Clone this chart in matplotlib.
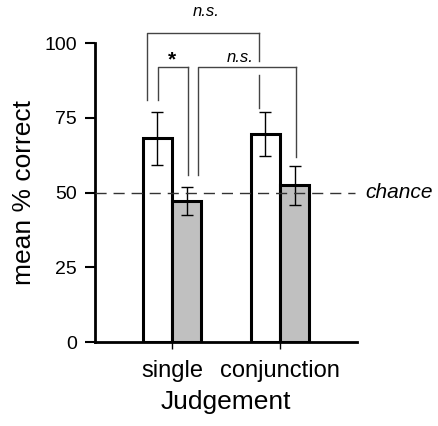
import matplotlib
matplotlib.use("Agg")
import matplotlib.pyplot as plt
import numpy as np

plt.rcParams["font.family"] = ["Liberation Sans", "DejaVu Sans"]

judgements = ["single", "conjunction"]
white_means = [68.1, 69.5]
white_err = [8.8, 7.3]
gray_means = [47.2, 52.4]
gray_err = [4.8, 6.6]
chance = 50

# significance brackets: (x legs, y top, left leg bottom, right leg bottom)
brackets = [
    ((-0.231, 0.806), 103.3, 80.9, 78.3),
    ((-0.130, 0.145), 92.0, 80.9, 55.9),
    ((0.244, 1.148), 92.0, 55.9, 62.0),
]
sig_labels = [("n.s.", 0.315, 110.5), ("*", 0.0, 94.5), ("n.s.", 0.63, 95.0)]

fig = plt.figure(figsize=(4.38, 4.26), dpi=100)
ax = fig.add_axes([0.217, 0.197, 0.598, 0.702])

x = np.arange(len(judgements))
w = 0.273
ax.bar(x - w / 2, white_means, w, color="white", edgecolor="black", linewidth=2.2, zorder=2)
ax.bar(x + w / 2, gray_means, w, color="#c0c0c0", edgecolor="black", linewidth=2.2, zorder=2)
ax.errorbar(x - w / 2, white_means, yerr=white_err, fmt="none", ecolor="black",
            elinewidth=1, capsize=4.5, capthick=1, zorder=3)
ax.errorbar(x + w / 2, gray_means, yerr=gray_err, fmt="none", ecolor="black",
            elinewidth=1, capsize=4.5, capthick=1, zorder=3)

ax.axhline(chance, xmin=0, xmax=0.992, color="#333333", linestyle=(0, (8, 5)),
           linewidth=1, zorder=4)
ax.text(1.03, chance, "chance", transform=ax.get_yaxis_transform(), fontsize=15,
        style="italic", va="center", ha="left")

bc = "#444444"
for i, ((xl, xr), top, bl, br) in enumerate(brackets):
    ax.plot([xl, xl, xr], [bl, top, top], color=bc, lw=1, clip_on=False)
    if i == 0:
        # right leg interrupted where it crosses the lower bracket
        ax.plot([xr, xr], [top, 94.0], color=bc, lw=1, clip_on=False)
        ax.plot([xr, xr], [89.3, br], color=bc, lw=1, clip_on=False)
    else:
        ax.plot([xr, xr], [top, br], color=bc, lw=1, clip_on=False)

for txt, tx, ty in sig_labels:
    if txt == "*":
        ax.text(tx, ty, txt, fontsize=15, fontweight="bold", ha="center", va="center")
    else:
        ax.text(tx, ty, txt, fontsize=12, style="italic", ha="center", va="center")

ax.set_xlim(-0.713, 1.713)
ax.set_ylim(0, 100)
ax.set_yticks([0, 25, 50, 75, 100])
ax.set_xticks(x)
ax.set_xticklabels(judgements, fontsize=17)
ax.tick_params(axis="y", labelsize=14, length=7, width=1.5, direction="out", pad=6)
ax.tick_params(axis="x", length=5, width=1, direction="out", pad=8)
for s in ["top", "right"]:
    ax.spines[s].set_visible(False)
for s in ["left", "bottom"]:
    ax.spines[s].set_linewidth(2)
ax.set_ylabel("mean % correct", fontsize=19, labelpad=6)
ax.set_xlabel("Judgement", fontsize=19, labelpad=6)

fig.savefig("out.png", dpi=100)
